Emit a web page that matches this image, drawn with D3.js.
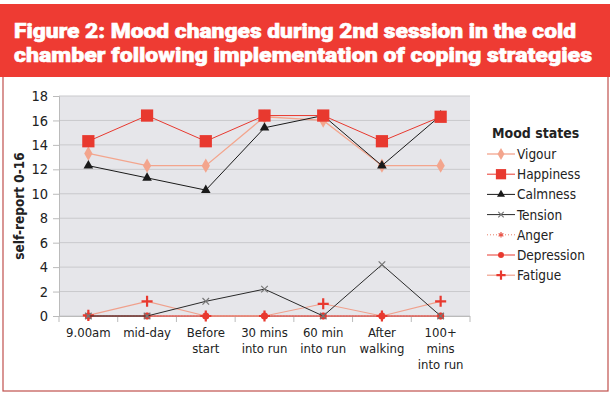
<!DOCTYPE html>
<html>
<head>
<meta charset="utf-8">
<script src="https://cdn.jsdelivr.net/npm/d3@7"></script>
<style>
  body { margin: 0; background: #fff; }
  svg text { font-family: "Liberation Sans Narrow", "DejaVu Sans Condensed", "Roboto", sans-serif; }
</style>
</head>
<body>
<svg id="chart" width="612" height="394"></svg>
<script>
const categories = ['9.00am', 'mid-day', 'Before start', '30 mins into run', '60 min into run', 'After walking', '100+ mins into run'];
const categoryLines = [['9.00am'], ['mid-day'], ['Before', 'start'], ['30 mins', 'into run'], ['60 min', 'into run'], ['After', 'walking'], ['100+', 'mins', 'into run']];

const vigour = [13.3, 12.3, 12.3, 16.3, 16.0, 12.3, 12.3];
const happiness = [14.3, 16.4, 14.3, 16.4, 16.4, 14.3, 16.3];
const calmness = [12.3, 11.3, 10.3, 15.4, 16.4, 12.3, 16.4];
const tension = [0, 0, 1.2, 2.2, 0, 4.2, 0];
const anger = [0, 0, 0, 0, 0, 0, 0];
const depression = [0, 0, 0, 0, 0, 0, 0];
const fatigue = [0.05, 1.2, 0, 0, 1.0, 0, 1.2];

const yTicks = [0, 2, 4, 6, 8, 10, 12, 14, 16, 18];

const series = [
  { name: 'Vigour', values: vigour, line: '#f3a58d', width: 1.3, dash: null, symbol: d3.symbolDiamond, size: 60, fill: '#f3a58d', stroke: null },
  { name: 'Happiness', values: happiness, line: '#e8392f', width: 1, dash: null, symbol: d3.symbolSquare, size: 150, fill: '#e8392f', stroke: null },
  { name: 'Calmness', values: calmness, line: '#1a1a1a', width: 1, dash: null, symbol: d3.symbolTriangle, size: 40, fill: '#1a1a1a', stroke: null },
  { name: 'Tension', values: tension, line: '#2a2a2a', width: 1, dash: null, symbol: d3.symbolX || d3.symbolCross, size: 30, fill: 'none', stroke: '#777' },
  { name: 'Anger', values: anger, line: '#e8806a', width: 1, dash: '1,2', symbol: d3.symbolAsterisk || d3.symbolStar, size: 30, fill: 'none', stroke: '#e8564a' },
  { name: 'Depression', values: depression, line: '#e8392f', width: 1, dash: null, symbol: d3.symbolCircle, size: 40, fill: '#e8392f', stroke: null },
  { name: 'Fatigue', values: fatigue, line: '#f0a08c', width: 1.2, dash: null, symbol: d3.symbolPlus || d3.symbolCross, size: 42, fill: 'none', stroke: '#e8392f', sw: 2.2 }
];

const svg = d3.select('#chart');

// frame + title banner
svg.append('rect')
  .attr('x', 3).attr('y', 60).attr('width', 605).attr('height', 331)
  .attr('fill', '#fff').attr('stroke', '#c0504d').attr('stroke-width', 1.2);

svg.append('rect')
  .attr('x', 0).attr('y', 4).attr('width', 610).attr('height', 73)
  .attr('fill', '#ee3b33');

const titleLines = [
  { text: 'Figure 2: Mood changes during 2nd session in the cold', y: 38, w: 562 },
  { text: 'chamber following implementation of coping strategies', y: 62, w: 578 }
];
svg.selectAll('.title')
  .data(titleLines)
  .enter()
  .append('text')
  .attr('class', 'title')
  .attr('x', 14)
  .attr('y', d => d.y)
  .attr('textLength', d => d.w)
  .attr('lengthAdjust', 'spacingAndGlyphs')
  .attr('fill', '#fff')
  .attr('stroke', '#fff')
  .attr('stroke-width', 0.6)
  .attr('font-size', 21)
  .attr('font-weight', 900)
  .style('font-family', 'Roboto, "Liberation Sans", sans-serif')
  .text(d => d.text);

// scales
const plot = { left: 59, right: 470, top: 96, bottom: 316 };

const x = d3.scaleBand()
  .domain(categories)
  .range([plot.left, plot.right])
  .padding(0);

const cx = c => x(c) + x.bandwidth() / 2;

const y = d3.scaleLinear()
  .domain([0, 18])
  .range([plot.bottom, plot.top]);

svg.append('rect')
  .attr('x', plot.left).attr('y', plot.top)
  .attr('width', plot.right - plot.left).attr('height', plot.bottom - plot.top)
  .attr('fill', '#e6e6ea');

// gridlines
svg.append('g')
  .selectAll('line')
  .data(yTicks)
  .enter()
  .append('line')
  .attr('x1', plot.left).attr('x2', plot.right)
  .attr('y1', d => y(d)).attr('y2', d => y(d))
  .attr('stroke', '#c9c9cc').attr('stroke-width', 1);

// y axis
const yAxis = svg.append('g')
  .attr('transform', `translate(${plot.left},0)`)
  .call(d3.axisLeft(y).tickValues(yTicks).tickSize(6).tickPadding(5));
yAxis.select('.domain').attr('stroke', '#bbb');
yAxis.selectAll('.tick line').attr('stroke', '#bbb');
yAxis.selectAll('.tick text')
  .attr('font-size', 14.5)
  .attr('fill', '#222')
  .style('font-family', '"Liberation Sans Narrow", "DejaVu Sans Condensed", sans-serif');

// x axis with ticks on category boundaries
const boundaries = categories.map(c => x(c)).concat([plot.right]);
svg.append('line')
  .attr('x1', plot.left).attr('x2', plot.right)
  .attr('y1', plot.bottom + 0.5).attr('y2', plot.bottom + 0.5)
  .attr('stroke', '#bbb');
svg.append('g')
  .selectAll('line')
  .data(boundaries)
  .enter()
  .append('line')
  .attr('x1', d => d).attr('x2', d => d)
  .attr('y1', plot.bottom).attr('y2', plot.bottom + 6)
  .attr('stroke', '#bbb');

const xLabels = svg.append('g')
  .selectAll('text')
  .data(categories)
  .enter()
  .append('text')
  .attr('x', d => cx(d))
  .attr('y', 337)
  .attr('text-anchor', 'middle')
  .attr('font-size', 13)
  .attr('fill', '#222');
xLabels.each(function (d, i) {
  d3.select(this).selectAll('tspan')
    .data(categoryLines[i])
    .enter()
    .append('tspan')
    .attr('x', cx(d))
    .attr('dy', (t, j) => j === 0 ? 0 : 16)
    .text(t => t);
});

// y axis title
svg.append('text')
  .attr('transform', `translate(24,${(plot.top + plot.bottom) / 2}) rotate(-90)`)
  .attr('text-anchor', 'middle')
  .attr('font-size', 13.5)
  .attr('font-weight', 'bold')
  .attr('fill', '#222')
  .text('self-report 0-16');

// lines + markers (draw zero-level series first)
const drawOrder = [4, 5, 6, 3, 0, 2, 1];
const line = d3.line()
  .x((d, i) => cx(categories[i]))
  .y(d => y(d));

drawOrder.forEach(k => {
  const s = series[k];
  svg.append('path')
    .datum(s.values)
    .attr('d', line)
    .attr('fill', 'none')
    .attr('stroke', s.line)
    .attr('stroke-width', s.width)
    .attr('stroke-dasharray', s.dash);
  svg.append('g')
    .selectAll('path')
    .data(s.values)
    .enter()
    .append('path')
    .attr('transform', (d, i) => `translate(${cx(categories[i])},${y(d)})`)
    .attr('d', d3.symbol().type(s.symbol).size(s.size))
    .attr('fill', s.fill)
    .attr('stroke', s.stroke)
    .attr('stroke-width', s.sw || 1.2);
});

// legend
const legend = svg.append('g').attr('transform', 'translate(487,0)');
legend.append('text')
  .attr('x', 5).attr('y', 138)
  .attr('font-size', 14)
  .attr('font-weight', 'bold')
  .attr('fill', '#222')
  .text('Mood states');

const item = legend.selectAll('.item')
  .data(series)
  .enter()
  .append('g')
  .attr('class', 'item')
  .attr('transform', (d, i) => `translate(0,${154 + i * 20.2})`);
item.append('line')
  .attr('x1', 0).attr('x2', 28)
  .attr('stroke', d => d.line)
  .attr('stroke-width', d => d.width)
  .attr('stroke-dasharray', d => d.dash);
item.append('path')
  .attr('transform', 'translate(14,0)')
  .attr('d', d => d3.symbol().type(d.symbol).size(d.size * 0.7)())
  .attr('fill', d => d.fill)
  .attr('stroke', d => d.stroke)
  .attr('stroke-width', d => d.sw || 1.2);
item.append('text')
  .attr('x', 30).attr('y', 5)
  .attr('font-size', 13.5)
  .attr('fill', '#222')
  .text(d => d.name);
</script>
</body>
</html>
